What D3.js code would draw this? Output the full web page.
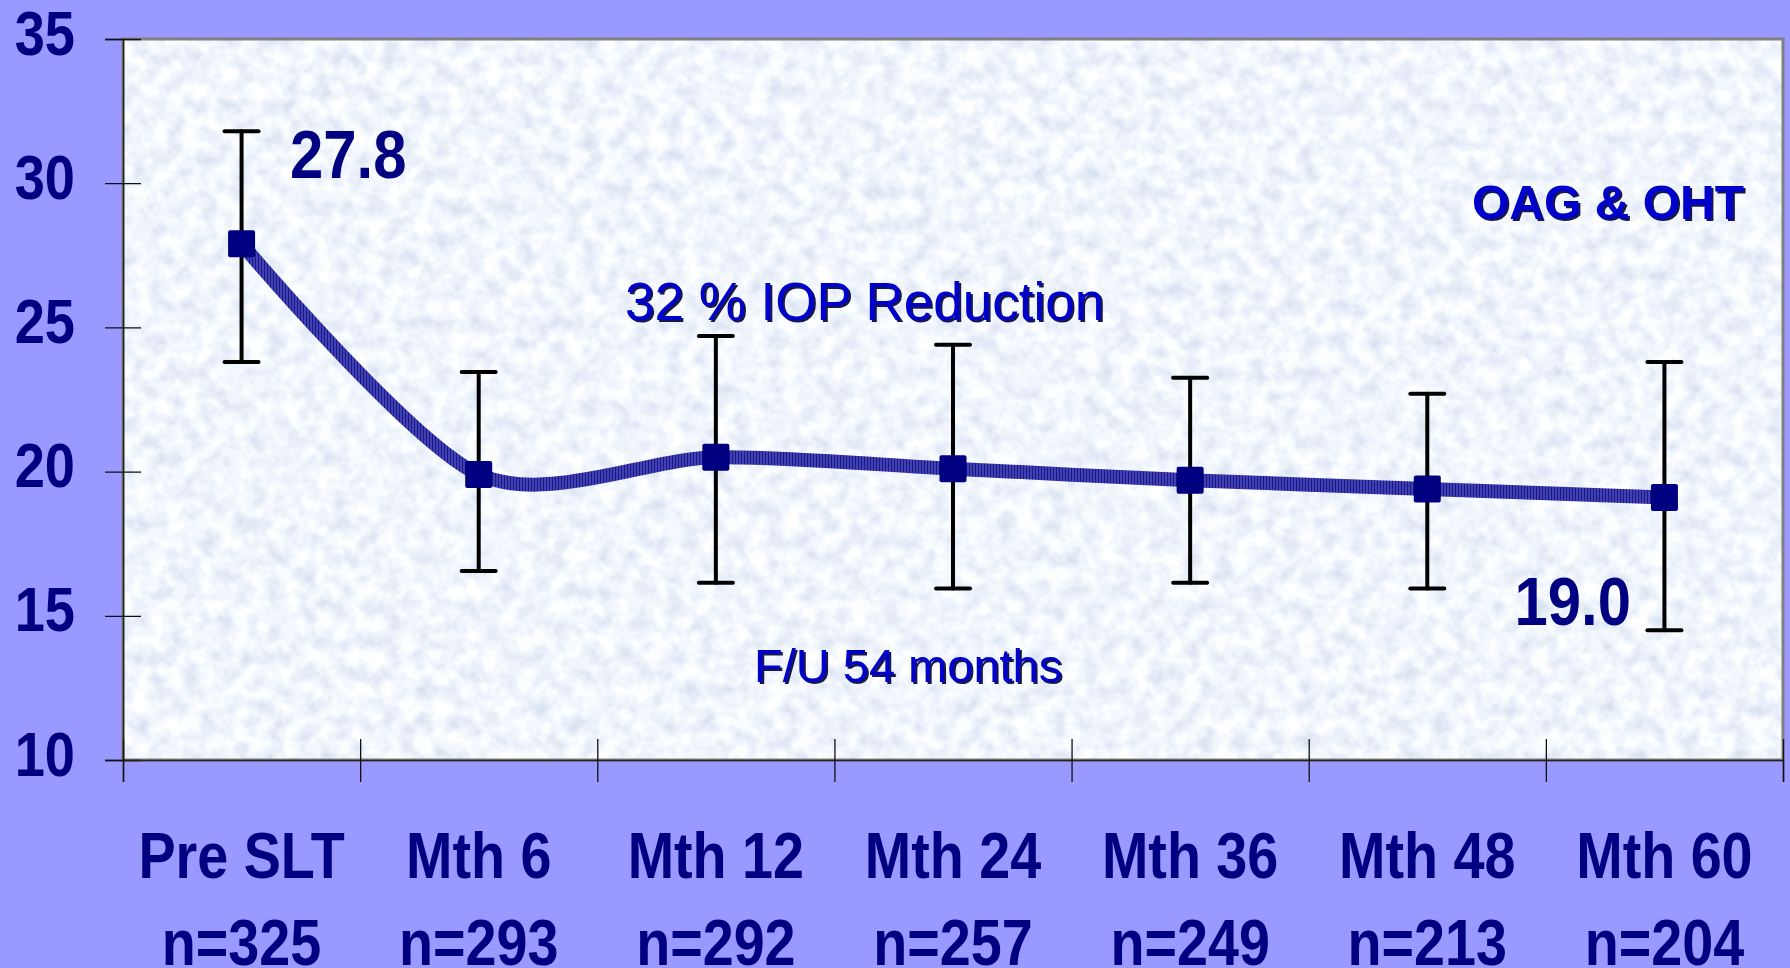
<!DOCTYPE html>
<html>
<head>
<meta charset="utf-8">
<script src="https://cdn.jsdelivr.net/npm/d3@7"></script>
<style>
  html, body { margin: 0; padding: 0; background: #9999ff; }
  svg { display: block; }
</style>
</head>
<body>
<div id="chart"></div>
<script>
// data
var categories = ['Pre SLT', 'Mth 6', 'Mth 12', 'Mth 24', 'Mth 36', 'Mth 48', 'Mth 60'];
var counts = ['n=325', 'n=293', 'n=292', 'n=257', 'n=249', 'n=213', 'n=204'];
var iop = [27.9, 19.9, 20.5, 20.1, 19.7, 19.4, 19.1];
var upper = [31.8, 23.45, 24.7, 24.4, 23.25, 22.7, 23.8];
var lower = [23.8, 16.55, 16.15, 15.95, 16.15, 15.95, 14.5];
var yTicks = [10, 15, 20, 25, 30, 35];

var W = 1790, H = 968;
var pLeft = 123, pRight = 1783, pTop = 39, pBottom = 760;
var sans = '"Liberation Sans", Arial, sans-serif';

// squeeze bold Arial to look like Arial Narrow
function narrow(sel, k) {
    sel.each(function() {
        var w = this.getComputedTextLength();
        d3.select(this)
            .attr('textLength', w * k)
            .attr('lengthAdjust', 'spacingAndGlyphs');
    });
}

var svg = d3.select('#chart').append('svg')
    .attr('width', W)
    .attr('height', H);

var defs = svg.append('defs');

// mottled plot background
var tex = defs.append('filter').attr('id', 'tex')
    .attr('x', 0).attr('y', 0).attr('width', 1).attr('height', 1);
tex.append('feTurbulence')
    .attr('type', 'fractalNoise')
    .attr('baseFrequency', '0.06')
    .attr('numOctaves', 3)
    .attr('seed', 7);
tex.append('feColorMatrix')
    .attr('type', 'matrix')
    .attr('values', '0.5 0 0 0 0.63  0.42 0 0 0 0.71  0.26 0 0 0 0.85  0 0 0 0 1');

// hatched line stroke
var hatch = defs.append('pattern').attr('id', 'hatch')
    .attr('patternUnits', 'userSpaceOnUse')
    .attr('width', 3).attr('height', 10);
hatch.append('rect').attr('width', 3).attr('height', 10).attr('fill', '#4040b4');
hatch.append('rect').attr('width', 1).attr('height', 10).attr('fill', '#1a1a82');

// text shadow
var shadow = defs.append('filter').attr('id', 'shadow')
    .attr('x', '-5%').attr('y', '-20%').attr('width', '110%').attr('height', '140%');
shadow.append('feDropShadow')
    .attr('dx', 2).attr('dy', 2).attr('stdDeviation', 0)
    .attr('flood-color', '#000033').attr('flood-opacity', 0.9);

var x = d3.scaleBand().domain(categories).range([pLeft, pRight]).padding(0);
var y = d3.scaleLinear().domain([10, 35]).range([pBottom, pTop]);
var cx = function(i) { return x(categories[i]) + x.bandwidth() / 2; };

// plot area
svg.append('rect')
    .attr('x', pLeft).attr('y', pTop)
    .attr('width', pRight - pLeft).attr('height', pBottom - pTop)
    .attr('filter', 'url(#tex)');
svg.append('rect')
    .attr('x', pLeft).attr('y', pTop)
    .attr('width', pRight - pLeft).attr('height', pBottom - pTop)
    .attr('fill', 'none')
    .attr('stroke', '#808080')
    .attr('stroke-width', 3);

// y axis
var yAxis = svg.append('g')
    .attr('transform', 'translate(' + pLeft + ',0)')
    .call(d3.axisLeft(y).tickValues(yTicks).tickSize(18).tickPadding(30));
yAxis.select('.domain').attr('stroke', '#222').attr('stroke-width', 1.5);
yAxis.selectAll('.tick line').attr('x1', 18).attr('stroke', '#111').attr('stroke-width', 1.3);
yAxis.selectAll('.tick text')
    .attr('dy', 15)
    .style('font-family', sans)
    .style('font-weight', 'bold')
    .style('font-size', '63px')
    .attr('fill', '#000080')
    .call(narrow, 0.86);

// x axis with boundary ticks
var b = d3.scaleLinear().domain([0, categories.length]).range([pLeft, pRight]);
var xAxis = svg.append('g')
    .attr('transform', 'translate(0,' + pBottom + ')')
    .call(d3.axisBottom(b).ticks(categories.length).tickSize(22).tickFormat(''));
xAxis.select('.domain').attr('stroke', '#222').attr('stroke-width', 1.5);
xAxis.selectAll('.tick line').attr('y1', -21).attr('stroke', '#111').attr('stroke-width', 1.3);

var labels = svg.append('g').selectAll('text')
    .data(categories)
    .enter()
    .append('text')
    .attr('text-anchor', 'middle')
    .style('font-family', sans)
    .style('font-weight', 'bold')
    .style('font-size', '64px')
    .attr('fill', '#000080');
labels.append('tspan')
    .attr('x', function(d, i) { return cx(i); })
    .attr('y', 878)
    .text(function(d) { return d; })
    .call(narrow, 0.87);
labels.append('tspan')
    .attr('x', function(d, i) { return cx(i); })
    .attr('y', 965)
    .text(function(d, i) { return counts[i]; })
    .call(narrow, 0.87);

// error bars
var eb = svg.append('g').selectAll('g')
    .data(iop)
    .enter()
    .append('g')
    .attr('stroke', '#000')
    .attr('stroke-width', 4)
    .attr('stroke-linecap', 'round');
eb.append('line')
    .attr('x1', function(d, i) { return cx(i); })
    .attr('x2', function(d, i) { return cx(i); })
    .attr('y1', function(d, i) { return y(upper[i]); })
    .attr('y2', function(d, i) { return y(lower[i]); });
eb.append('line')
    .attr('x1', function(d, i) { return cx(i) - 17; })
    .attr('x2', function(d, i) { return cx(i) + 17; })
    .attr('y1', function(d, i) { return y(upper[i]); })
    .attr('y2', function(d, i) { return y(upper[i]); });
eb.append('line')
    .attr('x1', function(d, i) { return cx(i) - 17; })
    .attr('x2', function(d, i) { return cx(i) + 17; })
    .attr('y1', function(d, i) { return y(lower[i]); })
    .attr('y2', function(d, i) { return y(lower[i]); });

// smoothed line
var line = d3.line()
    .x(function(d, i) { return cx(i); })
    .y(function(d) { return y(d); })
    .curve(d3.curveCardinal.tension(0.15));
svg.append('path')
    .datum(iop)
    .attr('d', line)
    .attr('fill', 'none')
    .attr('stroke', 'url(#hatch)')
    .attr('stroke-width', 14);

// markers
svg.append('g').selectAll('rect')
    .data(iop)
    .enter()
    .append('rect')
    .attr('x', function(d, i) { return cx(i) - 13.5; })
    .attr('y', function(d) { return y(d) - 13.5; })
    .attr('width', 27)
    .attr('height', 27)
    .attr('rx', 2)
    .attr('fill', '#000080');

// value labels
svg.append('text')
    .attr('x', 290).attr('y', 178)
    .style('font-family', sans).style('font-weight', 'bold').style('font-size', '68px')
    .attr('fill', '#000080')
    .text('27.8')
    .call(narrow, 0.88);
svg.append('text')
    .attr('x', 1631).attr('y', 625)
    .attr('text-anchor', 'end')
    .style('font-family', sans).style('font-weight', 'bold').style('font-size', '68px')
    .attr('fill', '#000080')
    .text('19.0')
    .call(narrow, 0.88);

// annotations
svg.append('text')
    .attr('x', 1744).attr('y', 219)
    .attr('text-anchor', 'end')
    .attr('filter', 'url(#shadow)')
    .style('font-family', sans).style('font-weight', 'bold').style('font-size', '48px')
    .attr('fill', '#0000cc')
    .text('OAG & OHT');
svg.append('text')
    .attr('x', 625).attr('y', 320)
    .attr('filter', 'url(#shadow)')
    .style('font-family', sans).style('font-size', '53px')
    .attr('fill', '#0000cc')
    .text('32 % IOP Reduction');
svg.append('text')
    .attr('x', 754).attr('y', 682)
    .attr('filter', 'url(#shadow)')
    .style('font-family', sans).style('font-size', '47px')
    .attr('fill', '#0000cc')
    .text('F/U 54 months');
</script>
</body>
</html>
